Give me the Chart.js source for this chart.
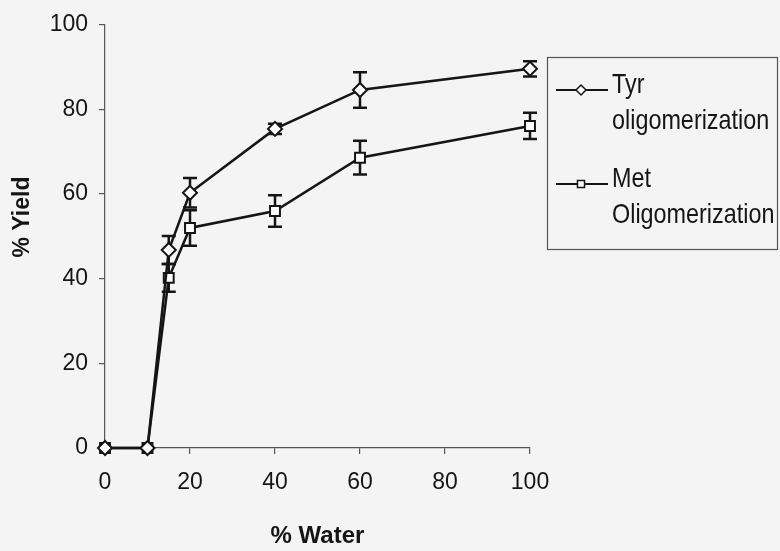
<!DOCTYPE html>
<html>
<head>
<meta charset="utf-8">
<script src="https://cdn.jsdelivr.net/npm/chart.js@4.4.0/dist/chart.umd.min.js"></script>
<style>
  html, body { margin: 0; padding: 0; background: #f4f4f4; }
  #wrap { width: 780px; height: 551px; position: relative; }
</style>
</head>
<body>
<div id="wrap"><canvas id="myChart" width="780" height="551"></canvas></div>
<script>
// % water in the solvent
var waterPct = [0, 10, 15, 20, 40, 60, 100];

// % yield, Tyr oligomerization, with error
var tyrYield = [0, 0, 46.8, 60.3, 75.4, 84.6, 89.6];
var tyrErr   = [0, 0, 3.3, 3.5, 1.2, 4.2, 1.8];

// % yield, Met oligomerization, with error
var metYield = [0, 0, 40.2, 52.0, 56.0, 68.6, 76.1];
var metErr   = [0, 0, 3.3, 4.2, 3.7, 4.0, 3.1];

var legendLines = [["Tyr", "oligomerization"], ["Met", "Oligomerization"]];
var legendMarks = ["rectRot", "rect"];

var ink = "#151515";
var font = "'Liberation Sans', Arial, sans-serif";

function toPoints(xs, ys) {
  var pts = [];
  for (var i = 0; i < xs.length; i++) {
    pts.push({ x: xs[i], y: ys[i] });
  }
  return pts;
}

// condensed text (the original legend uses a narrow face)
function narrowText(ctx, txt, x, y) {
  ctx.save();
  ctx.translate(x, y);
  ctx.scale(0.835, 1);
  ctx.fillText(txt, 0, 0);
  ctx.restore();
}

// vertical error bars with caps, drawn under the lines and markers
var errorBars = {
  id: "errorBars",
  beforeDatasetsDraw: function(chart) {
    var ctx = chart.ctx;
    var xs = chart.scales.x, ys = chart.scales.y;
    var errs = [tyrErr, metErr];
    var vals = [tyrYield, metYield];
    ctx.save();
    ctx.strokeStyle = ink;
    ctx.lineWidth = 2.5;
    for (var d = 0; d < errs.length; d++) {
      for (var i = 0; i < waterPct.length; i++) {
        if (!errs[d][i]) continue;
        var px = xs.getPixelForValue(waterPct[i]);
        var top = ys.getPixelForValue(vals[d][i] + errs[d][i]);
        var bot = ys.getPixelForValue(vals[d][i] - errs[d][i]);
        ctx.beginPath();
        ctx.moveTo(px, top); ctx.lineTo(px, bot);
        ctx.moveTo(px - 7, top); ctx.lineTo(px + 7, top);
        ctx.moveTo(px - 7, bot); ctx.lineTo(px + 7, bot);
        ctx.stroke();
      }
    }
    ctx.restore();
  }
};

// boxed legend on the right plus the y title, placed like the original
var boxLegend = {
  id: "boxLegend",
  afterDraw: function(chart) {
    var ctx = chart.ctx;
    ctx.save();
    ctx.strokeStyle = "#555";
    ctx.lineWidth = 1.2;
    ctx.strokeRect(547.5, 57.5, 230, 192);
    var rows = [90, 184];
    ctx.font = "28px " + font;
    ctx.textBaseline = "middle";
    for (var k = 0; k < rows.length; k++) {
      var y = rows[k];
      ctx.strokeStyle = ink;
      ctx.lineWidth = 2;
      ctx.beginPath();
      ctx.moveTo(556, y); ctx.lineTo(608, y);
      ctx.stroke();
      ctx.fillStyle = "#fff";
      ctx.lineWidth = 1.5;
      Chart.helpers.drawPoint(ctx, { pointStyle: legendMarks[k], radius: 5, borderWidth: 1.5 }, 581, y);
      ctx.fillStyle = ink;
      narrowText(ctx, legendLines[k][0], 612, y - 5);
      narrowText(ctx, legendLines[k][1], 612, y + 31);
    }
    // y axis title
    ctx.translate(23, 217);
    ctx.rotate(-Math.PI / 2);
    ctx.textAlign = "center";
    ctx.font = "bold 23px " + font;
    ctx.fillText("% Yield", 0, 0);
    ctx.restore();
  }
};

var ctx = document.getElementById("myChart");

var myChart = new Chart(ctx, {
  type: "line",
  data: {
    datasets: [{
      label: "Tyr oligomerization",
      data: toPoints(waterPct, tyrYield),
      borderColor: ink,
      borderWidth: 2.5,
      backgroundColor: "#fff",
      pointStyle: "rectRot",
      pointRadius: 7,
      pointBorderWidth: 2,
      pointBackgroundColor: "#fff",
      pointBorderColor: ink,
      tension: 0,
      clip: false
    }, {
      label: "Met Oligomerization",
      data: toPoints(waterPct, metYield),
      borderColor: ink,
      borderWidth: 2.5,
      backgroundColor: "#fff",
      pointStyle: "rect",
      pointRadius: 7,
      pointBorderWidth: 2,
      pointBackgroundColor: "#fff",
      pointBorderColor: ink,
      tension: 0,
      clip: false
    }]
  },
  options: {
    responsive: false,
    animation: false,
    layout: { padding: { left: 0, top: 24, right: 250, bottom: 0 } },
    plugins: {
      legend: { display: false },
      tooltip: { enabled: false }
    },
    scales: {
      x: {
        type: "linear",
        min: 0,
        max: 100,
        afterFit: function(scale) { scale.height = 103; },
        ticks: { stepSize: 20, color: ink, font: { family: font, size: 23 }, padding: 15 },
        grid: { drawOnChartArea: false, drawTicks: true, tickLength: 6, color: "#555", lineWidth: 1.2 },
        border: { display: true, color: "#555", width: 1.2 },
        title: { display: true, text: "% Water", color: ink, font: { family: font, size: 24, weight: "bold" }, padding: { top: 12, bottom: 0 } }
      },
      y: {
        min: 0,
        max: 100,
        afterFit: function(scale) { scale.width = 105; },
        ticks: { stepSize: 20, color: ink, font: { family: font, size: 23 }, padding: 11 },
        grid: { drawOnChartArea: false, drawTicks: true, tickLength: 6, color: "#555", lineWidth: 1.2 },
        border: { display: true, color: "#555", width: 1.2 },
        title: { display: false }
      }
    }
  },
  plugins: [errorBars, boxLegend]
});
</script>
</body>
</html>
